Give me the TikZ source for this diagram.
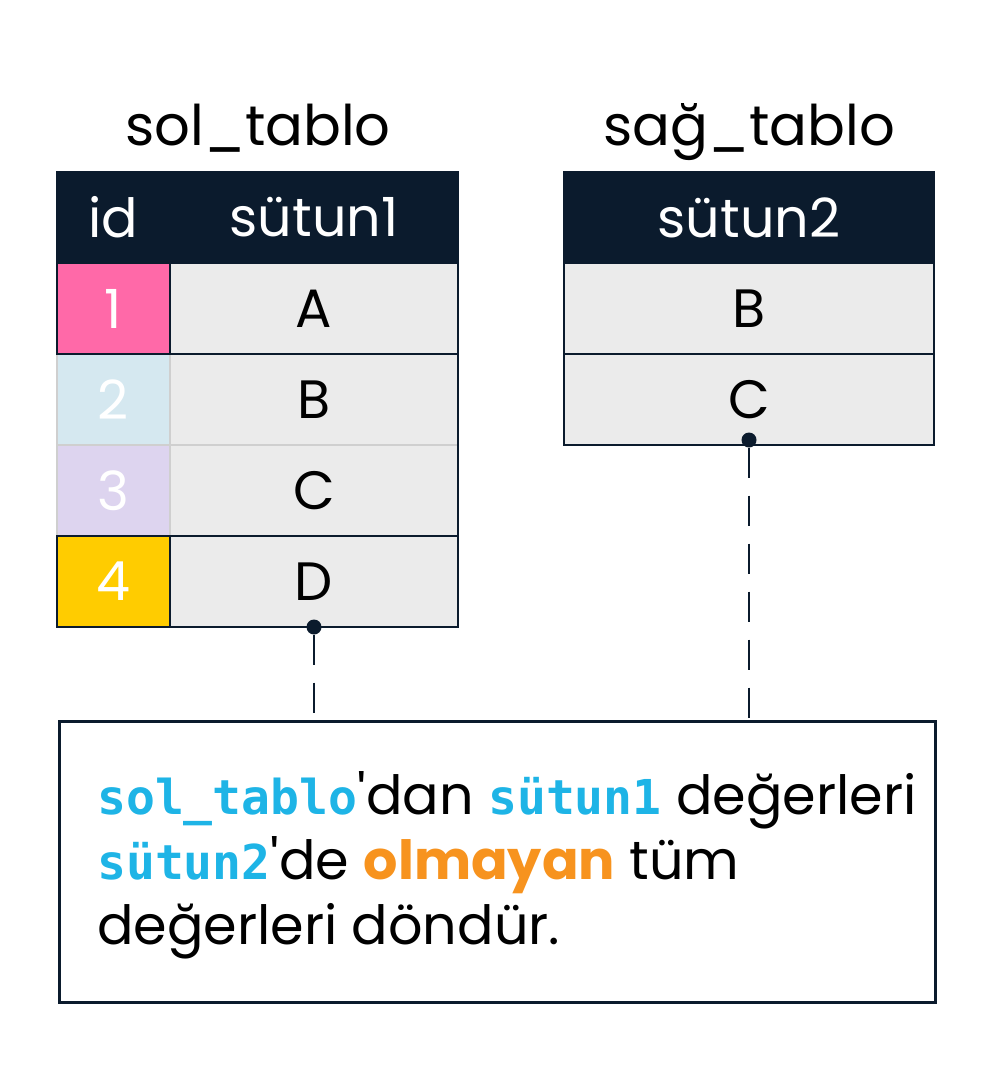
\documentclass[tikz,border=0pt]{standalone}
\usepackage{fontspec}
\setmainfont{Poppins}
\newfontfamily\codefont{DejaVu Sans Mono}[Scale=0.89]
\usetikzlibrary{positioning}
\definecolor{navy}{HTML}{0B1B2D}
\definecolor{cellgray}{HTML}{EBEBEB}
\definecolor{fadegray}{HTML}{CFCFCF}
\definecolor{pinkid}{HTML}{FF69A8}
\definecolor{blueid}{HTML}{D5E8F0}
\definecolor{lilacid}{HTML}{DDD4EF}
\definecolor{yellowid}{HTML}{FFCC00}
\definecolor{cyanword}{HTML}{1EB4E6}
\definecolor{orangeword}{HTML}{F7931E}
\newcommand\kod[1]{{\codefont\bfseries\color{cyanword}#1}}
\tikzset{
  cell/.style={rectangle, inner sep=0pt, outer sep=0pt, minimum height=91pt,
    draw=navy, line width=2.5pt, fill=cellgray, font=\fontsize{54}{60}\selectfont},
  idcell/.style={cell, minimum width=113pt, text=white},
  valcell/.style={cell, minimum width=288pt},
  faded/.style={draw=fadegray},
  head/.style={cell, fill=navy, text=white},
  title/.style={anchor=base, font=\fontsize{56}{60}\selectfont},
  pin/.style={circle, fill=navy, inner sep=0pt, minimum size=15pt},
  link/.style={navy, line width=2.5pt, dash pattern=on 30pt off 18pt},
  rule/.style={navy, line width=2.5pt, line cap=rect},
}
\begin{document}
\begin{tikzpicture}[x=1pt, y=-1pt]
  \fill[white] (0,0) rectangle (992,1082);
  \node[title] (ltitle) at (258,145) {sol\_tablo};
  \node[title] (rtitle) at (749,145) {sağ\_tablo};

  \node[head, minimum width=113pt, anchor=north west] (hid) at (57,172) {id};
  \node[head, minimum width=288pt, right=0pt of hid] (hval) {sütun1};
  \node[idcell, fill=pinkid, below=0pt of hid] (i1) {1};
  \node[valcell, right=0pt of i1] (v1) {A};
  \node[idcell, faded, fill=blueid, below=0pt of i1] (i2) {2};
  \node[valcell, faded, right=0pt of i2] (v2) {B};
  \node[idcell, faded, fill=lilacid, below=0pt of i2] (i3) {3};
  \node[valcell, faded, right=0pt of i3] (v3) {C};
  \node[idcell, fill=yellowid, below=0pt of i3] (i4) {4};
  \node[valcell, right=0pt of i4] (v4) {D};
  \draw[rule] (i1.south west) -- (v1.south east);
  \draw[rule] (v1.south east) -- (v3.south east);

  \node[head, minimum width=370pt, anchor=north west] (hr) at (564,172) {sütun2};
  \node[cell, minimum width=370pt, below=0pt of hr] (r1) {B};
  \node[cell, minimum width=370pt, below=0pt of r1] (r2) {C};

  \node[pin] (p1) at (v4.south) {};
  \node[pin] (p2) at ([yshift=5pt]r2.south) {};

  \node[draw=navy, line width=2.5pt, inner sep=0pt, minimum width=876pt,
    minimum height=281pt, anchor=north west] (box) at (58,720) {};
  \node[anchor=west, align=left, inner sep=0pt,
    font=\fontsize{54}{65}\selectfont] (msg) at ([xshift=39pt,yshift=-4pt]box.west)
    {\kod{sol\_tablo}\textquotesingle dan \kod{sütun1} değerleri\\
     \kod{sütun2}\textquotesingle de {\bfseries\color{orangeword}olmayan} tüm\\
     değerleri döndür.};

  \draw[link] (p1) -- (p1 |- box.north);
  \draw[link] (p2) -- (p2 |- box.north);
\end{tikzpicture}
\end{document}
